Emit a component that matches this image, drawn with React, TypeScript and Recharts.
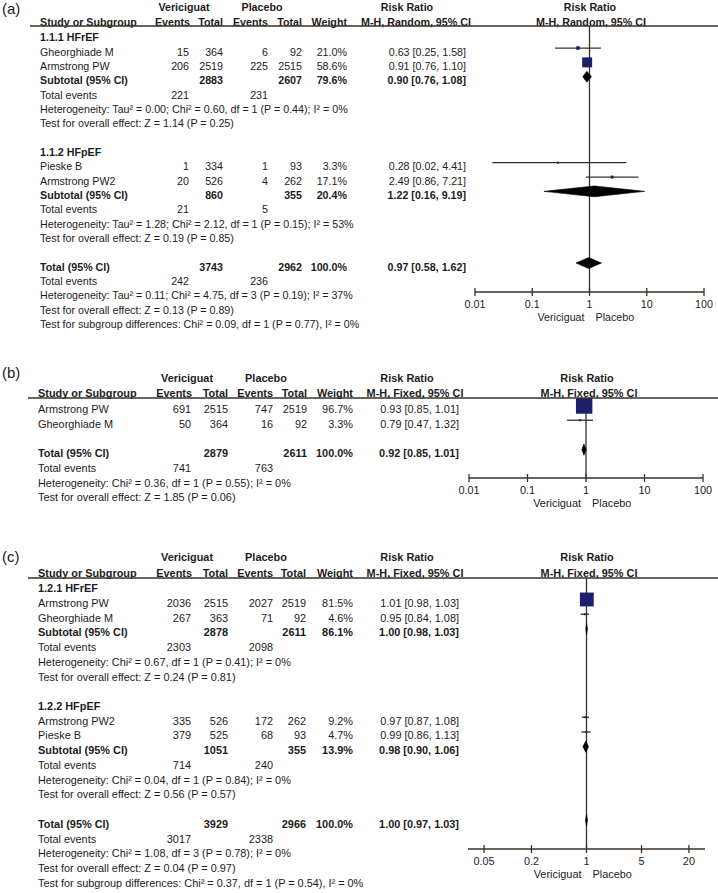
import React from 'react';
import { ScatterChart, Scatter, XAxis, YAxis, ErrorBar, ReferenceLine } from 'recharts';

const FONT = '"Liberation Sans", Arial, Helvetica, sans-serif';
const INK = '#1c1c1c';
const RULE = '#3a3028';
const BOX = '#1e1e6e';
const DIAMOND_HALF = 0.38;
const BOX_PER_PCT = 0.17;

type Study = { name: string; e1: number; n1: number; e2: number; n2: number; w: number; rr: number; lo: number; hi: number };
type Pooled = { label: string; n1: number; n2: number; w: number; rr: number; lo: number; hi: number; ev1: number; ev2: number; notes: string[] };

// ---------- Panel (a) ----------
const A_HFREF: Study[] = [
  { name: 'Gheorghiade M', e1: 15, n1: 364, e2: 6, n2: 92, w: 21.0, rr: 0.63, lo: 0.25, hi: 1.58 },
  { name: 'Armstrong PW', e1: 206, n1: 2519, e2: 225, n2: 2515, w: 58.6, rr: 0.91, lo: 0.76, hi: 1.10 },
];
const A_HFPEF: Study[] = [
  { name: 'Pieske B', e1: 1, n1: 334, e2: 1, n2: 93, w: 3.3, rr: 0.28, lo: 0.02, hi: 4.41 },
  { name: 'Armstrong PW2', e1: 20, n1: 526, e2: 4, n2: 262, w: 17.1, rr: 2.49, lo: 0.86, hi: 7.21 },
];
const A_SUB_HFREF: Pooled = {
  label: 'Subtotal (95% CI)', n1: 2883, n2: 2607, w: 79.6, rr: 0.90, lo: 0.76, hi: 1.08, ev1: 221, ev2: 231,
  notes: ['Heterogeneity: Tau² = 0.00; Chi² = 0.60, df = 1 (P = 0.44); I² = 0%', 'Test for overall effect: Z = 1.14 (P = 0.25)'],
};
const A_SUB_HFPEF: Pooled = {
  label: 'Subtotal (95% CI)', n1: 860, n2: 355, w: 20.4, rr: 1.22, lo: 0.16, hi: 9.19, ev1: 21, ev2: 5,
  notes: ['Heterogeneity: Tau² = 1.28; Chi² = 2.12, df = 1 (P = 0.15); I² = 53%', 'Test for overall effect: Z = 0.19 (P = 0.85)'],
};
const A_TOTAL: Pooled = {
  label: 'Total (95% CI)', n1: 3743, n2: 2962, w: 100.0, rr: 0.97, lo: 0.58, hi: 1.62, ev1: 242, ev2: 236,
  notes: [
    'Heterogeneity: Tau² = 0.11; Chi² = 4.75, df = 3 (P = 0.19); I² = 37%',
    'Test for overall effect: Z = 0.13 (P = 0.89)',
    'Test for subgroup differences: Chi² = 0.09, df = 1 (P = 0.77), I² = 0%',
  ],
};

// ---------- Panel (b) ----------
const B_STUDIES: Study[] = [
  { name: 'Armstrong PW', e1: 691, n1: 2515, e2: 747, n2: 2519, w: 96.7, rr: 0.93, lo: 0.85, hi: 1.01 },
  { name: 'Gheorghiade M', e1: 50, n1: 364, e2: 16, n2: 92, w: 3.3, rr: 0.79, lo: 0.47, hi: 1.32 },
];
const B_TOTAL: Pooled = {
  label: 'Total (95% CI)', n1: 2879, n2: 2611, w: 100.0, rr: 0.92, lo: 0.85, hi: 1.01, ev1: 741, ev2: 763,
  notes: ['Heterogeneity: Chi² = 0.36, df = 1 (P = 0.55); I² = 0%', 'Test for overall effect: Z = 1.85 (P = 0.06)'],
};

// ---------- Panel (c) ----------
const C_HFREF: Study[] = [
  { name: 'Armstrong PW', e1: 2036, n1: 2515, e2: 2027, n2: 2519, w: 81.5, rr: 1.01, lo: 0.98, hi: 1.03 },
  { name: 'Gheorghiade M', e1: 267, n1: 363, e2: 71, n2: 92, w: 4.6, rr: 0.95, lo: 0.84, hi: 1.08 },
];
const C_HFPEF: Study[] = [
  { name: 'Armstrong PW2', e1: 335, n1: 526, e2: 172, n2: 262, w: 9.2, rr: 0.97, lo: 0.87, hi: 1.08 },
  { name: 'Pieske B', e1: 379, n1: 525, e2: 68, n2: 93, w: 4.7, rr: 0.99, lo: 0.86, hi: 1.13 },
];
const C_SUB_HFREF: Pooled = {
  label: 'Subtotal (95% CI)', n1: 2878, n2: 2611, w: 86.1, rr: 1.00, lo: 0.98, hi: 1.03, ev1: 2303, ev2: 2098,
  notes: ['Heterogeneity: Chi² = 0.67, df = 1 (P = 0.41); I² = 0%', 'Test for overall effect: Z = 0.24 (P = 0.81)'],
};
const C_SUB_HFPEF: Pooled = {
  label: 'Subtotal (95% CI)', n1: 1051, n2: 355, w: 13.9, rr: 0.98, lo: 0.90, hi: 1.06, ev1: 714, ev2: 240,
  notes: ['Heterogeneity: Chi² = 0.04, df = 1 (P = 0.84); I² = 0%', 'Test for overall effect: Z = 0.56 (P = 0.57)'],
};
const C_TOTAL: Pooled = {
  label: 'Total (95% CI)', n1: 3929, n2: 2966, w: 100.0, rr: 1.00, lo: 0.97, hi: 1.03, ev1: 3017, ev2: 2338,
  notes: [
    'Heterogeneity: Chi² = 1.08, df = 3 (P = 0.78); I² = 0%',
    'Test for overall effect: Z = 0.04 (P = 0.97)',
    'Test for subgroup differences: Chi² = 0.37, df = 1 (P = 0.54), I² = 0%',
  ],
};

const TICKS_WIDE = [0.01, 0.1, 1, 10, 100];
const TICKS_NARROW = [0.05, 0.2, 1, 5, 20];

type Cols = {
  name: number; e1: number; n1: number; e2: number; n2: number; w: number; ci: number;
  vHead: number; pHead: number; rrHead: number; mhHead: number; fRR: number; fMH: number; ruleX: number;
};
type Group = { title: string | null; studies: Study[]; pooled: Pooled | null };
type PanelCfg = {
  tag: string; tagDy: number; top: number; height: number; mTop: number; mBottom: number; left: number; right: number;
  xDomain: [number, number]; xTicks: number[]; yDomain: [number, number]; font: number; method: string;
  groups: Group[]; total: Pooled; cols: Cols;
};

const COLS_A: Cols = { name: 40, e1: 189, n1: 223, e2: 268, n2: 302, w: 347, ci: 466, vHead: 184, pHead: 262, rrHead: 407, mhHead: 416, fRR: 590, fMH: 591, ruleX: 30 };
const COLS_BC: Cols = { name: 38, e1: 191, n1: 228, e2: 273, n2: 306, w: 353, ci: 459, vHead: 187, pHead: 266, rrHead: 407, mhHead: 415, fRR: 587, fMH: 589, ruleX: 28 };

const PANELS: PanelCfg[] = [
  {
    tag: '(a)', tagDy: 10.3, top: 0, height: 340, mTop: 26, mBottom: 8, left: 475, right: 704,
    xDomain: [0.01, 100], xTicks: TICKS_WIDE, yDomain: [-0.537, 18.02], font: 10.7, method: 'M-H, Random, 95% CI',
    groups: [
      { title: '1.1.1 HFrEF', studies: A_HFREF, pooled: A_SUB_HFREF },
      { title: '1.1.2 HFpEF', studies: A_HFPEF, pooled: A_SUB_HFPEF },
    ],
    total: A_TOTAL, cols: COLS_A,
  },
  {
    tag: '(b)', tagDy: 3.3, top: 340, height: 195, mTop: 58, mBottom: 17, left: 469, right: 703,
    xDomain: [0.01, 100], xTicks: TICKS_WIDE, yDomain: [-0.51, 4.93], font: 10.9, method: 'M-H, Fixed, 95% CI',
    groups: [{ title: null, studies: B_STUDIES, pooled: null }],
    total: B_TOTAL, cols: { ...COLS_BC, n2: 307 },
  },
  {
    tag: '(c)', tagDy: 8, top: 535, height: 358, mTop: 43, mBottom: 4, left: 468, right: 705,
    xDomain: [0.03125, 32], xTicks: TICKS_NARROW, yDomain: [-0.46, 17.95], font: 10.9, method: 'M-H, Fixed, 95% CI',
    groups: [
      { title: '1.2.1 HFrEF', studies: C_HFREF, pooled: C_SUB_HFREF },
      { title: '1.2.2 HFpEF', studies: C_HFPEF, pooled: C_SUB_HFPEF },
    ],
    total: C_TOTAL, cols: COLS_BC,
  },
];

type Row =
  | { kind: 'head1'; idx: number }
  | { kind: 'head2'; idx: number }
  | { kind: 'rule'; idx: number }
  | { kind: 'group'; idx: number; text: string }
  | { kind: 'study'; idx: number; s: Study }
  | { kind: 'pooled'; idx: number; p: Pooled }
  | { kind: 'events'; idx: number; p: Pooled }
  | { kind: 'note'; idx: number; text: string };

const HEAD1_IDX = -2.1;
const HEAD2_IDX = -1.06;

function buildRows(cfg: PanelCfg): Row[] {
  const rows: Row[] = [
    { kind: 'head1', idx: HEAD1_IDX },
    { kind: 'head2', idx: HEAD2_IDX },
    { kind: 'rule', idx: cfg.yDomain[0] },
  ];
  let i = 0;
  const pushPooled = (p: Pooled) => {
    rows.push({ kind: 'pooled', idx: i++, p });
    rows.push({ kind: 'events', idx: i++, p });
    p.notes.forEach((t) => rows.push({ kind: 'note', idx: i++, text: t }));
  };
  cfg.groups.forEach((g) => {
    if (g.title) rows.push({ kind: 'group', idx: i++, text: g.title });
    g.studies.forEach((s) => rows.push({ kind: 'study', idx: i++, s }));
    if (g.pooled) pushPooled(g.pooled);
    i++;
  });
  pushPooled(cfg.total);
  return rows;
}

const ci = (rr: number, lo: number, hi: number) => `${rr.toFixed(2)} [${lo.toFixed(2)}, ${hi.toFixed(2)}]`;

function Panel({ cfg }: { cfg: PanelCfg }) {
  const rows = buildRows(cfg);
  const squares: any[] = [];
  const diamonds: any[][] = [];
  rows.forEach((r) => {
    if (r.kind === 'study') {
      const s = r.s;
      squares.push({ x: s.rr, y: r.idx, err: [s.rr - s.lo, s.hi - s.rr], w: s.w });
    }
    if (r.kind === 'pooled') {
      const p = r.p;
      diamonds.push([
        { x: p.lo, y: r.idx },
        { x: p.rr, y: r.idx - DIAMOND_HALF },
        { x: p.hi, y: r.idx },
        { x: p.rr, y: r.idx + DIAMOND_HALF },
      ]);
    }
  });

  const c = cfg.cols;
  const fs = cfg.font;
  const TDY = 7.5;
  const base = { fontFamily: FONT, fontSize: fs, fill: INK } as any;
  const bold = { ...base, fontWeight: 700 };

  const rowTick = (props: any) => {
    const { y, payload } = props;
    const row = rows.find((r) => Math.abs(r.idx - payload.value) < 1e-6);
    if (!row) return <g />;
    const by = y + TDY;
    switch (row.kind) {
      case 'head1':
        return (
          <g>
            <text x={2} y={y + cfg.tagDy} fontFamily={FONT} fontSize={15} fill={INK}>{cfg.tag}</text>
            <text {...bold} x={c.vHead} y={by} textAnchor="middle">Vericiguat</text>
            <text {...bold} x={c.pHead} y={by} textAnchor="middle">Placebo</text>
            <text {...bold} x={c.rrHead} y={by} textAnchor="middle">Risk Ratio</text>
            <text {...bold} x={c.fRR} y={by} textAnchor="middle">Risk Ratio</text>
          </g>
        );
      case 'head2':
        return (
          <g>
            <text {...bold} x={c.name} y={by}>Study or Subgroup</text>
            <text {...bold} x={c.e1 + 1} y={by} textAnchor="end">Events</text>
            <text {...bold} x={c.n1} y={by} textAnchor="end">Total</text>
            <text {...bold} x={c.e2} y={by} textAnchor="end">Events</text>
            <text {...bold} x={c.n2} y={by} textAnchor="end">Total</text>
            <text {...bold} x={c.w} y={by} textAnchor="end">Weight</text>
            <text {...bold} x={c.mhHead} y={by} textAnchor="middle">{cfg.method}</text>
            <text {...bold} x={c.fMH} y={by} textAnchor="middle">{cfg.method}</text>
          </g>
        );
      case 'rule':
        return <line x1={c.ruleX} x2={718} y1={y} y2={y} stroke={RULE} strokeWidth={1.5} />;
      case 'group':
        return <text {...bold} x={c.name} y={by}>{row.text}</text>;
      case 'study': {
        const s = row.s;
        return (
          <g>
            <text {...base} x={c.name} y={by}>{s.name}</text>
            <text {...base} x={c.e1} y={by} textAnchor="end">{s.e1}</text>
            <text {...base} x={c.n1} y={by} textAnchor="end">{s.n1}</text>
            <text {...base} x={c.e2} y={by} textAnchor="end">{s.e2}</text>
            <text {...base} x={c.n2} y={by} textAnchor="end">{s.n2}</text>
            <text {...base} x={c.w} y={by} textAnchor="end">{s.w.toFixed(1)}%</text>
            <text {...base} x={c.ci} y={by} textAnchor="end">{ci(s.rr, s.lo, s.hi)}</text>
          </g>
        );
      }
      case 'pooled': {
        const p = row.p;
        return (
          <g>
            <text {...bold} x={c.name} y={by}>{p.label}</text>
            <text {...bold} x={c.n1} y={by} textAnchor="end">{p.n1}</text>
            <text {...bold} x={c.n2} y={by} textAnchor="end">{p.n2}</text>
            <text {...bold} x={c.w} y={by} textAnchor="end">{p.w.toFixed(1)}%</text>
            <text {...bold} x={c.ci} y={by} textAnchor="end">{ci(p.rr, p.lo, p.hi)}</text>
          </g>
        );
      }
      case 'events':
        return (
          <g>
            <text {...base} x={c.name} y={by}>Total events</text>
            <text {...base} x={c.e1} y={by} textAnchor="end">{row.p.ev1}</text>
            <text {...base} x={c.e2} y={by} textAnchor="end">{row.p.ev2}</text>
          </g>
        );
      case 'note':
        return <text {...base} x={c.name} y={by}>{row.text}</text>;
    }
    return <g />;
  };

  const xTick = (props: any) => {
    const { x, y, payload } = props;
    return (
      <g>
        <line x1={x} x2={x} y1={y - 4} y2={y + 4} stroke={RULE} strokeWidth={1.3} />
        <text {...base} x={x} y={y + 15.5} textAnchor="middle">{String(payload.value)}</text>
        {payload.value === 1 ? (
          <g>
            <text {...base} x={x - 5} y={y + 29} textAnchor="end">Vericiguat</text>
            <text {...base} x={x + 6} y={y + 29} textAnchor="start">Placebo</text>
          </g>
        ) : null}
      </g>
    );
  };

  const squareShape = (p: any) => {
    const s = Math.max(2, BOX_PER_PCT * p.payload.w);
    return <rect x={p.cx - s / 2} y={p.cy - s / 2} width={s} height={s} fill={BOX} />;
  };
  const diamondLine = (lp: any) => {
    const pts = lp && lp.points ? lp.points : [];
    return <polygon points={pts.map((q: any) => `${q.x},${q.y}`).join(' ')} fill="#000" stroke="#000" strokeWidth={0.6} />;
  };

  return (
    <div style={{ position: 'absolute', left: 0, top: cfg.top, width: 718, height: cfg.height }}>
      <ScatterChart
        width={718}
        height={cfg.height}
        margin={{ top: cfg.mTop, bottom: cfg.mBottom, left: cfg.left - 60, right: 718 - cfg.right }}
      >
        <XAxis
          type="number"
          dataKey="x"
          scale="log"
          domain={cfg.xDomain}
          ticks={cfg.xTicks}
          interval={0}
          height={40}
          tickSize={0}
          tickMargin={0}
          tickLine={false}
          axisLine={{ stroke: RULE, strokeWidth: 1.3 }}
          tick={xTick}
          allowDataOverflow
        />
        <YAxis
          type="number"
          dataKey="y"
          domain={cfg.yDomain}
          reversed
          width={60}
          ticks={rows.map((r) => r.idx)}
          interval={0}
          tickLine={false}
          axisLine={false}
          tick={rowTick}
          allowDataOverflow
        />
        <ReferenceLine x={1} stroke={RULE} strokeWidth={1.3} />
        <Scatter data={squares} shape={() => <g />} isAnimationActive={false}>
          <ErrorBar dataKey="err" direction="x" width={0} stroke={RULE} strokeWidth={1.3} />
        </Scatter>
        <Scatter data={squares} shape={squareShape} isAnimationActive={false} />
        {diamonds.map((d, k) => (
          <Scatter
            key={k}
            data={d}
            shape={() => <g />}
            line={diamondLine}
            lineType="joint"
            isAnimationActive={false}
          />
        ))}
      </ScatterChart>
    </div>
  );
}

export default function App() {
  return (
    <div style={{ position: 'absolute', left: 0, top: 0, width: 718, height: 893, background: '#fff', overflow: 'hidden' }}>
      {PANELS.map((p) => (
        <Panel key={p.tag} cfg={p} />
      ))}
    </div>
  );
}
